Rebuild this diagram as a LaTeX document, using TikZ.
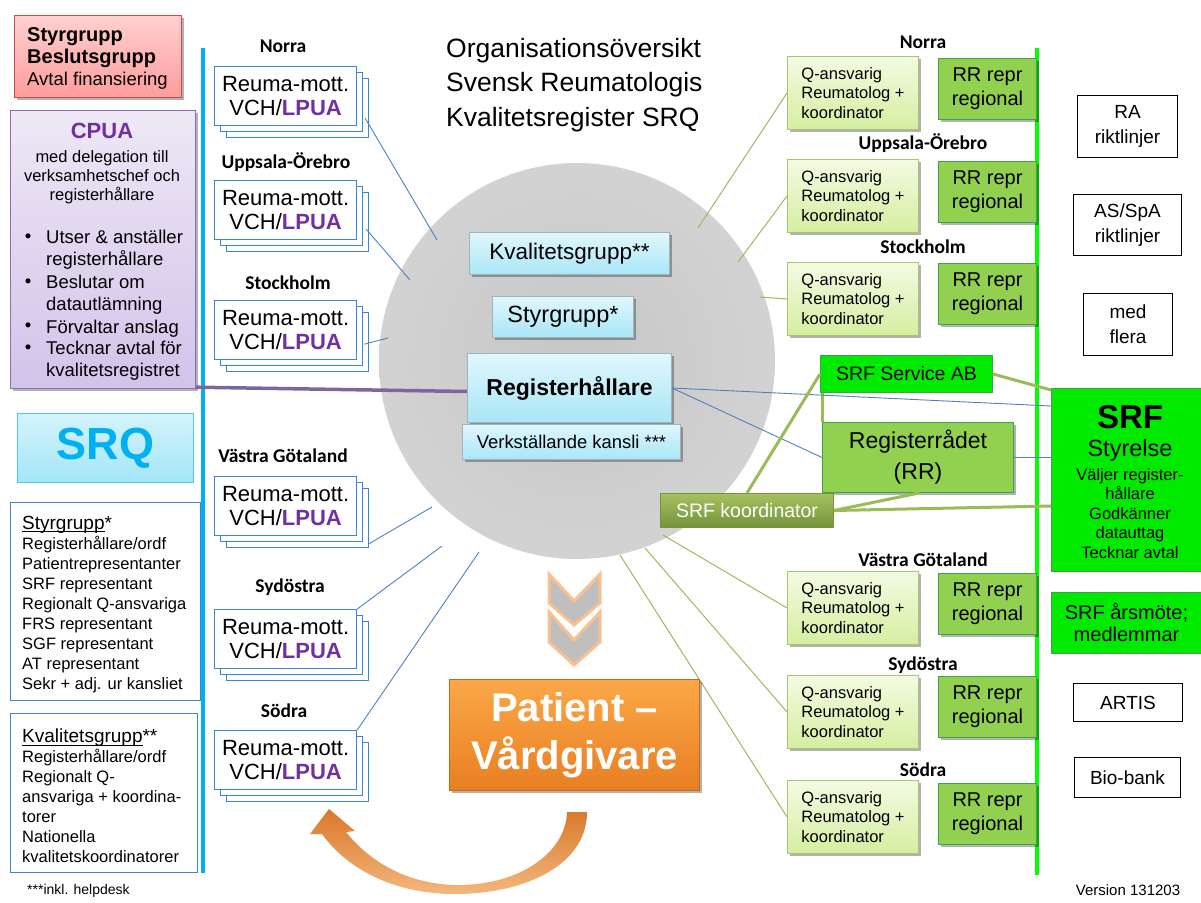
\documentclass[tikz,border=0pt]{standalone}
\usepackage{fontspec}
\setmainfont{Liberation Sans}
\newfontfamily\calib{Carlito}
\usetikzlibrary{shadows}
\newcommand\fsz[2]{\fontsize{#1}{#2}\selectfont}
\newcommand\myul[1]{\setbox0=\hbox{#1}\rlap{\rule[-2.6pt]{\wd0}{0.9pt}}\box0}
\definecolor{lineblue}{HTML}{4F81BD}
\definecolor{srqblue}{HTML}{00B0F0}
\definecolor{boxblue}{HTML}{3A87D6}
\definecolor{lpurple}{HTML}{7030A0}
\definecolor{purpline}{HTML}{8064A2}
\definecolor{cpuaborder}{HTML}{8C6FB0}
\definecolor{cputop}{HTML}{EEE8F6}
\definecolor{cpubot}{HTML}{D2C3EA}
\definecolor{oliveline}{HTML}{9BBB59}
\definecolor{vgreen}{HTML}{00FF00}
\definecolor{srfgreen}{HTML}{00EA00}
\definecolor{rrgreen}{HTML}{92D050}
\definecolor{dkgreen}{HTML}{3FA34D}
\definecolor{qtop}{HTML}{F3FBE3}
\definecolor{qbot}{HTML}{D5EEA0}
\definecolor{qborder}{HTML}{A6C86B}
\definecolor{cytop}{HTML}{E0F7FD}
\definecolor{cybot}{HTML}{A9E6F7}
\definecolor{cyborder}{HTML}{9FB4BC}
\definecolor{redtop}{HTML}{FFD0D0}
\definecolor{redbot}{HTML}{FF9C9C}
\definecolor{redborder}{HTML}{C0504D}
\definecolor{srqtop}{HTML}{D4F4FC}
\definecolor{srqbot}{HTML}{A4E5F7}
\definecolor{oratop}{HTML}{FBA848}
\definecolor{orabot}{HTML}{E87E22}
\definecolor{oraborder}{HTML}{C8691C}
\definecolor{arrdark}{HTML}{D9782A}
\definecolor{arrlight}{HTML}{F3B77C}
\definecolor{peach}{HTML}{FAC090}
\definecolor{chevgray}{HTML}{BFBFBF}
\definecolor{kotop}{HTML}{A5C25F}
\definecolor{kobot}{HTML}{76923C}
\definecolor{balldark}{HTML}{C6C6C6}
\definecolor{ballmid}{HTML}{D4D4D4}
\definecolor{balllight}{HTML}{E8E8E8}
\pgfdeclareradialshading{ball}{\pgfpoint{0bp}{0bp}}{color(0bp)=(balldark); color(28bp)=(ballmid); color(50bp)=(balllight)}
\newcommand\reumatxt{Reuma-mott.\\VCH/\textcolor{lpurple}{\textbf{LPUA}}}
\newcommand\qtxt{Q-ansvarig\\Reumatolog +\\koordinator}
\newcommand\rrtxt{RR repr\\regional}
\begin{document}
\begin{tikzpicture}[x=1pt,y=-1pt,
  bx/.style={inner sep=0pt, anchor=north west, align=center},
  shd/.style={drop shadow={shadow xshift=2pt,shadow yshift=-2.5pt,opacity=.3,fill=black}},
  redbox/.style={bx, draw=redborder, line width=1pt, top color=redtop, bottom color=redbot, shd},
  cpuabox/.style={bx, draw=cpuaborder, line width=1.2pt, top color=cputop, bottom color=cpubot, shd},
  srqbox/.style={bx, draw=srqblue!70, line width=1pt, top color=srqtop, bottom color=srqbot},
  listbox/.style={bx, draw=boxblue, line width=1.3pt, fill=white},
  txt/.style={inner sep=0pt, anchor=north west, align=left},
  reuma/.style={bx, draw=boxblue, line width=1.2pt, fill=white, minimum width=142pt, minimum height=59pt, font=\fsz{22}{24},
     copy shadow={shadow xshift=12pt,shadow yshift=-12pt,draw=boxblue,line width=1.2pt,fill=white,opacity=1},
     copy shadow={shadow xshift=6pt,shadow yshift=-6pt,draw=boxblue,line width=1.2pt,fill=white,opacity=1}},
  reglbl/.style={inner sep=0pt, font=\calib\bfseries\fsz{19.5}{22}},
  cybox/.style={bx, draw=cyborder, line width=1pt, top color=cytop, bottom color=cybot, shd},
  qbox/.style={bx, align=left, draw=qborder, line width=1pt, top color=qtop, bottom color=qbot, minimum width=131pt, minimum height=73pt, font=\fsz{16.5}{19.5}, shd},
  rrbox/.style={bx, draw=dkgreen, line width=1pt, fill=rrgreen, minimum width=98pt, minimum height=61pt, font=\fsz{20}{24}, shd},
  srfbox/.style={bx, draw=dkgreen, line width=1pt, fill=srfgreen},
  plainbox/.style={bx, draw=black, line width=1pt, fill=white, font=\fsz{19}{25}},
  thinblue/.style={draw=lineblue, line width=0.9pt},
  thingreen/.style={draw=oliveline, line width=1pt},
  thickolive/.style={draw=oliveline, line width=3pt},
]
\useasboundingbox (0,0) rectangle (1201,902);

% vertical bars
\draw[srqblue, line width=4pt] (203,48) -- (203,873);
\draw[vgreen, line width=4pt] (1037,48) -- (1037,875);

% big circle
\shade[shading=ball] (577,361) circle[radius=198pt];

% title
\node[txt, font=\fsz{26.5}{34.5}] (title) at (446,38) {Organisationsöversikt\\Svensk Reumatologis\\Kvalitetsregister SRQ};

% ---- left column boxes
\node[redbox, minimum width=167pt, minimum height=82pt] (beslut) at (14,15) {};
\node[txt, font=\fsz{18.5}{22}] (beslutt) at (27,27) {{\bfseries\fsz{20}{22}Styrgrupp}\\{\bfseries\fsz{20}{22}Beslutsgrupp}\\Avtal finansiering};

\node[cpuabox, minimum width=185pt, minimum height=278pt] (cpua) at (10,110) {};
\node[inner sep=0pt, font=\bfseries\fsz{22}{24}, text=lpurple] (cpuat) at (102,131) {CPUA};
\node[inner sep=0pt, align=center, font=\fsz{16.5}{19}] (cpuad) at (102,177) {med delegation till\\verksamhetschef och\\registerhållare};
\node[inner sep=0pt, font=\fsz{18.5}{21.5}] (bu1) at (28,238) {•};
\node[inner sep=0pt, font=\fsz{18.5}{21.5}] (bu2) at (28,283) {•};
\node[inner sep=0pt, font=\fsz{18.5}{21.5}] (bu3) at (28,327) {•};
\node[inner sep=0pt, font=\fsz{18.5}{21.5}] (bu4) at (28,349) {•};
\node[txt, font=\fsz{18.5}{21.5}] (it1) at (46,230) {Utser \& anställer\\registerhållare};
\node[txt, font=\fsz{18.5}{21.5}] (it2) at (46,275) {Beslutar om\\datautlämning};
\node[txt, font=\fsz{18.5}{21.5}] (it3) at (46,320) {Förvaltar anslag};
\node[txt, font=\fsz{18.5}{21.5}] (it4) at (46,341) {Tecknar avtal för\\kvalitetsregistret};

\node[srqbox, minimum width=176pt, minimum height=69pt, font=\bfseries\fsz{45}{50}, text=srqblue] (srq) at (17,413) {SRQ};

\node[listbox, minimum width=190pt, minimum height=198pt] (stylist) at (10,502) {};
\node[txt, font=\fsz{16.5}{20}] (stylistt) at (22,516) {{\fsz{19}{20}\myul{Styrgrupp}*}\\Registerhållare/ordf\\Patientrepresentanter\\SRF representant\\Regionalt Q-ansvariga\\FRS representant\\SGF representant\\AT representant\\Sekr + adj. ur kansliet};

\node[listbox, minimum width=187pt, minimum height=159pt] (kvlist) at (10,713) {};
\node[txt, font=\fsz{16.5}{20}] (kvlistt) at (22,729) {{\fsz{19}{20}\myul{Kvalitetsgrupp}**}\\Registerhållare/ordf\\Regionalt Q-\\ansvariga + koordina-\\torer\\Nationella\\kvalitetskoordinatorer};

\node[inner sep=0pt, anchor=west, font=\fsz{14}{16}] (foot) at (27,891) {***inkl. helpdesk};

% ---- left regional boxes
\node[reglbl] (ln1) at (283,46) {Norra};
\node[reuma] (lb1) at (214,66) {\reumatxt};
\node[reglbl] (ln2) at (286,162) {Uppsala-Örebro};
\node[reuma] (lb2) at (214,180) {\reumatxt};
\node[reglbl] (ln3) at (288,283) {Stockholm};
\node[reuma] (lb3) at (214,300) {\reumatxt};
\node[reglbl] (ln4) at (283,456) {Västra Götaland};
\node[reuma] (lb4) at (214,476) {\reumatxt};
\node[reglbl] (ln5) at (290,587) {Sydöstra};
\node[reuma] (lb5) at (214,609) {\reumatxt};
\node[reglbl] (ln6) at (284,711) {Södra};
\node[reuma] (lb6) at (214,730) {\reumatxt};

% circle end points
\coordinate (cl1) at (437,240);
\coordinate (cl2) at (410,280);
\coordinate (cl3) at (388,338);
\coordinate (cl4) at (432,507);
\coordinate (cl5) at (442,546);
\coordinate (cl6) at (479,552);
\coordinate (cr1) at (698,228);
\coordinate (cr2) at (738,262);
\coordinate (cr3) at (760,297);
\coordinate (cr4) at (663,535);
\coordinate (cr5) at (645,548);
\coordinate (cr6) at (620,555);

\draw[thinblue] ([shift={(8,-8)}]lb1.south east) -- (cl1);
\draw[thinblue] ([shift={(9,-11)}]lb2.south east) -- (cl2);
\draw[thinblue] ([shift={(7,-16)}]lb3.south east) -- (cl3);
\draw[thinblue] ([shift={(11,8)}]lb4.south east) -- (cl4);
\draw[thinblue] (lb5.north east) -- (cl5);
\draw[thinblue] (lb6.north east) -- (cl6);

% ---- right regional boxes
\node[reglbl] (rn1) at (923,42) {Norra};
\node[qbox] (q1) at (787,56) {\qtxt};
\node[rrbox] (rr1) at (938,58) {\rrtxt};
\node[reglbl] (rn2) at (923,143) {Uppsala-Örebro};
\node[qbox] (q2) at (787,159) {\qtxt};
\node[rrbox] (rr2) at (938,161) {\rrtxt};
\node[reglbl] (rn3) at (923,247) {Stockholm};
\node[qbox] (q3) at (787,262) {\qtxt};
\node[rrbox] (rr3) at (938,263) {\rrtxt};
\node[reglbl] (rn4) at (923,560) {Västra Götaland};
\node[qbox] (q4) at (787,571) {\qtxt};
\node[rrbox] (rr4) at (938,573) {\rrtxt};
\node[reglbl] (rn5) at (923,665) {Sydöstra};
\node[qbox] (q5) at (787,675) {\qtxt};
\node[rrbox] (rr5) at (938,676) {\rrtxt};
\node[reglbl] (rn6) at (923,770) {Södra};
\node[qbox] (q6) at (787,780) {\qtxt};
\node[rrbox] (rr6) at (938,783) {\rrtxt};

\draw[thingreen] (cr1) -- (q1.west);
\draw[thingreen] (cr2) -- (q2.west);
\draw[thingreen] (cr3) -- (q3.west);
\draw[thingreen] (cr4) -- (q4.west);
\draw[thingreen] (cr5) -- (q5.west);
\draw[thingreen] (cr6) -- (q6.west);

% ---- SRF side
\node[srfbox, minimum width=158pt, minimum height=183pt] (srf) at (1051,388) {};
\node[inner sep=0pt, font=\bfseries\fsz{33}{36}] (srft) at (1130,417) {SRF};
\node[inner sep=0pt, font=\fsz{23.5}{26}] (srfs) at (1130,450) {Styrelse};
\node[inner sep=0pt, anchor=north, align=center, font=\fsz{16.5}{19.5}] (srfl) at (1130,468) {Väljer register-\\hållare\\Godkänner\\datauttag\\Tecknar avtal};
\node[srfbox, minimum width=150pt, minimum height=61pt, font=\fsz{20}{22}] (arsm) at (1051,592) {SRF årsmöte;\\medlemmar};

\node[srfbox, minimum width=172pt, minimum height=37pt, font=\fsz{19.5}{22}] (svc) at (820,355) {SRF Service AB};
\node[rrbox, minimum width=191pt, minimum height=70pt, font=\fsz{23}{31}] (rr) at (822,422) {Registerrådet\\(RR)};

% connectors mid right
\draw[thickolive] (svc.east) -- ([shift={(0,2)}]srf.north west);
\draw[thickolive] (rr.north west |- svc.south) -- (rr.north west);
\draw[thinblue] (rr.east) -- (rr.east -| srf.west);

% center boxes
\node[cybox, minimum width=200pt, minimum height=42pt, font=\fsz{22.5}{26}] (kval) at (469,232) {Kvalitetsgrupp**};
\node[cybox, minimum width=141pt, minimum height=41pt, font=\fsz{23.5}{26}] (styr) at (492,296) {Styrgrupp*};

\coordinate (pend) at (467,391.5);
\draw[purpline, line width=3.5pt] ([shift={(0,-2)}]cpua.south east) -- (pend);
\node[cybox, minimum width=204pt, minimum height=69pt, font=\bfseries\fsz{23}{26}] (regh) at (467,353) {Registerhållare};
\node[cybox, minimum width=218pt, minimum height=35pt, font=\fsz{18.4}{22}] (kansli) at (462,424) {Verkställande kansli ***};

\draw[thinblue] (regh.east) -- ([shift={(0,18)}]srf.north west);
\draw[thinblue] (regh.east) -- (rr.west);

\node[bx, draw=kobot, line width=1pt, top color=kotop, bottom color=kobot, minimum width=173pt, minimum height=34pt, text=white, font=\fsz{19.5}{22}] (koord) at (660,493) {SRF koordinator};
\draw[thickolive] (koord.north) -- (svc.west);
\draw[thickolive] (koord.east) -- ([shift={(-95,0)}]rr.south east);
\draw[thickolive] (koord.east) -- ([shift={(0,118)}]srf.north west);

% far right boxes
\node[plainbox, minimum width=100pt, minimum height=62pt] (ra) at (1077,95) {RA\\riktlinjer};
\node[plainbox, minimum width=108pt, minimum height=61pt] (asspa) at (1073,194) {AS/SpA\\riktlinjer};
\node[plainbox, minimum width=89pt, minimum height=62pt] (mf) at (1083,293) {med\\flera};
\node[plainbox, minimum width=109pt, minimum height=38pt] (artis) at (1073,683) {ARTIS};
\node[plainbox, minimum width=106pt, minimum height=40pt] (bio) at (1074,757) {Bio-bank};
\node[inner sep=0pt, font=\fsz{15}{18}] (ver) at (1128,890) {Version 131203};

% chevrons
\filldraw[fill=chevgray, draw=peach, line width=3pt, line join=miter] (549,574) -- (574,601) -- (600,574) -- (600,603) -- (574,625) -- (549,603) -- cycle;
\filldraw[fill=chevgray, draw=peach, line width=3pt, line join=miter] (549,612) -- (574,640) -- (600,612) -- (600,642) -- (574,665) -- (549,642) -- cycle;

% patient box
\node[bx, draw=oraborder, line width=1pt, top color=oratop, bottom color=orabot, minimum width=250pt, minimum height=111pt, text=white, font=\bfseries\fsz{40}{48}, shd] (patient) at (449,679) {Patient –\\Vårdgivare};

% curved arrow
\shade[top color=arrdark, bottom color=arrlight] (329,809) -- (355,831) -- (346,832) .. controls (375,868) and (415,884) .. (455,885) .. controls (520,886) and (566,852) .. (567,812) -- (587,812) .. controls (587,865) and (525,894) .. (455,894) .. controls (395,894) and (348,870) .. (322,834) -- (310,834) -- cycle;
\end{tikzpicture}
\end{document}
